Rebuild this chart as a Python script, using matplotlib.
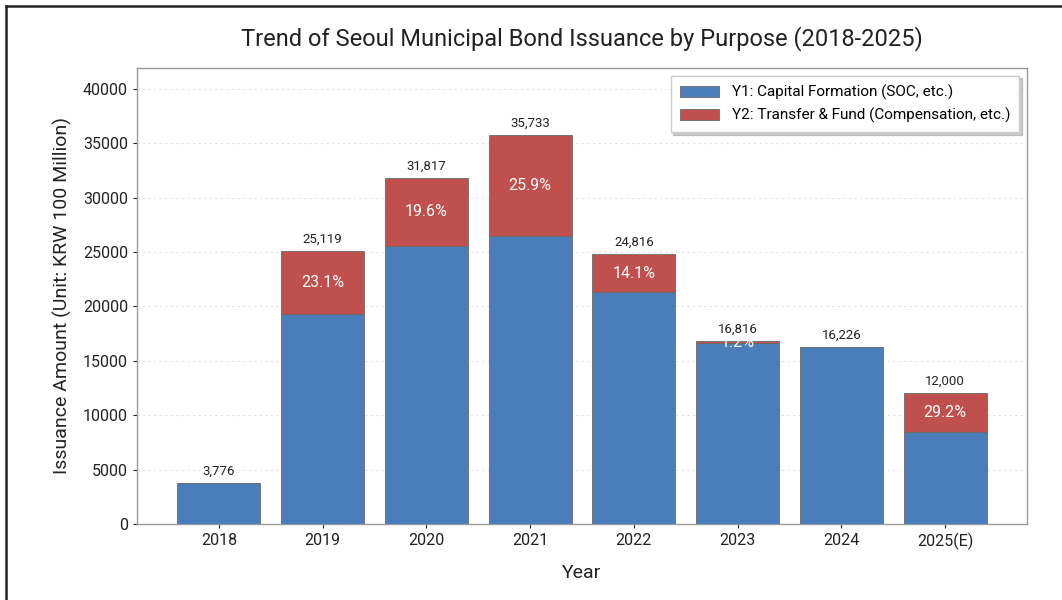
import matplotlib
matplotlib.use("Agg")
import matplotlib.pyplot as plt
from matplotlib.lines import Line2D
import numpy as np

years = ["2018", "2019", "2020", "2021", "2022", "2023", "2024", "2025(E)"]
y1_capital = [3776, 19316, 25581, 26478, 21317, 16614, 16226, 8500]
y2_transfer = [0, 5803, 6236, 9255, 3499, 202, 0, 3500]
totals = [3776, 25119, 31817, 35733, 24816, 16816, 16226, 12000]
y2_share = [0.0, 23.1, 19.6, 25.9, 14.1, 1.2, 0.0, 29.2]

plt.rcParams['font.family'] = ['Roboto', 'DejaVu Sans']

fig = plt.figure(figsize=(10.62, 6.0), dpi=100)
ax = fig.add_axes([137/1062, 1 - 524/600, (1027-137)/1062, (524-68)/600])

x = np.arange(len(years))
blue = '#4A7EBB'
red = '#C0504D'
edge = '#6b6b6b'
ax.bar(x, y1_capital, 0.8, color=blue, edgecolor=edge, linewidth=0.6,
       label='Y1: Capital Formation (SOC, etc.)', zorder=3)
ax.bar(x, y2_transfer, 0.8, bottom=y1_capital, color=red, edgecolor=edge, linewidth=0.6,
       label='Y2: Transfer & Fund (Compensation, etc.)', zorder=3)

for i in range(len(years)):
    ax.text(x[i], totals[i] + 500, f"{totals[i]:,}", ha='center', va='bottom',
            fontsize=9.5, color='#222222', zorder=4)
    if y2_transfer[i] > 0:
        ax.text(x[i], y1_capital[i] + y2_transfer[i] / 2, f"{y2_share[i]:.1f}%",
                ha='center', va='center', fontsize=11.5, color='white', zorder=4)

ax.set_xticks(x)
ax.set_xticklabels(years)
ax.set_ylim(0, max(totals) * 1.173)
ax.set_yticks(np.arange(0, 40001, 5000))
ax.tick_params(axis='both', labelsize=11.5, colors='#222222', length=3)
for t in ax.get_xticklines() + ax.get_yticklines():
    t.set_color('#888888')
ax.yaxis.grid(True, linestyle=(0, (2, 3)), color='#e2e2e2', linewidth=0.8, zorder=0)
ax.set_axisbelow(True)
for s in ax.spines.values():
    s.set_color('#9a9a9a')
    s.set_linewidth(1.0)

ax.set_xlabel('Year', fontsize=14, labelpad=10, color='#222222')
ax.set_ylabel('Issuance Amount (Unit: KRW 100 Million)', fontsize=14, labelpad=8, color='#222222')
ax.set_title('Trend of Seoul Municipal Bond Issuance by Purpose (2018-2025)',
             fontsize=17, pad=16, color='#222222')

ax.legend(loc='upper right', fontsize=11, shadow={'color': '#999999', 'alpha': 0.5},
          frameon=True, fancybox=False, edgecolor='#cccccc', borderpad=0.6,
          handlelength=2.6, framealpha=1.0)

fig.add_artist(Line2D([6/1062, 1.0], [1 - 6/600, 1 - 6/600], color='#222222', linewidth=1.8,
                      transform=fig.transFigure))
fig.add_artist(Line2D([6/1062, 6/1062], [0, 1 - 6/600], color='#222222', linewidth=1.8,
                      transform=fig.transFigure))

fig.savefig('out.png', dpi=100)
